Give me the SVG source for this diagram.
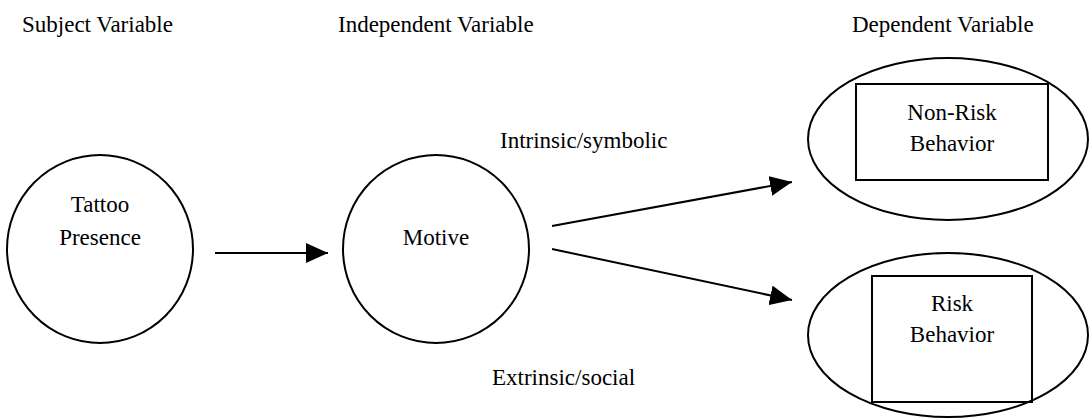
<svg xmlns="http://www.w3.org/2000/svg" width="1090" height="418" viewBox="0 0 1090 418">
<defs>
<marker id="arr" viewBox="0 0 22 20" refX="22" refY="10" markerWidth="22" markerHeight="20" markerUnits="userSpaceOnUse" orient="auto">
<path d="M0,0 L22,10 L0,20 Z" fill="#000"/>
</marker>
<style>
.c{text-anchor:middle}
.s{fill:none;stroke:#000;stroke-width:2}
.e{fill:none;stroke:#000;stroke-width:2;marker-end:url(#arr)}
</style>
</defs>
<rect width="1090" height="418" fill="#fff"/>
<g font-family="Liberation Serif, Times New Roman, DejaVu Serif, serif" font-size="23" fill="#000">
<g id="headers">
<text x="22" y="32">Subject Variable</text>
<text x="338" y="32">Independent Variable</text>
<text x="852" y="32">Dependent Variable</text>
</g>
<g id="tattoo">
<ellipse class="s" cx="100" cy="249" rx="93" ry="94"/>
<text class="c" x="100" y="212">Tattoo</text>
<text class="c" x="100" y="245">Presence</text>
</g>
<g id="motive">
<ellipse class="s" cx="436" cy="249" rx="93" ry="94"/>
<text class="c" x="436" y="245">Motive</text>
</g>
<g id="nonrisk">
<ellipse class="s" cx="948" cy="139" rx="140" ry="81"/>
<rect class="s" x="856" y="84" width="192" height="96"/>
<text class="c" x="952" y="120">Non-Risk</text>
<text class="c" x="952" y="151">Behavior</text>
</g>
<g id="risk">
<ellipse class="s" cx="948" cy="335" rx="140" ry="82"/>
<rect class="s" x="872" y="276" width="160" height="126"/>
<text class="c" x="952" y="311">Risk</text>
<text class="c" x="952" y="342">Behavior</text>
</g>
<g id="connectors">
<line class="e" x1="215" y1="253" x2="328" y2="253"/>
<line class="e" x1="552" y1="226" x2="792" y2="182"/>
<line class="e" x1="552" y1="249" x2="792" y2="300"/>
<text x="500" y="148">Intrinsic/symbolic</text>
<text x="492" y="385">Extrinsic/social</text>
</g>
</g>
</svg>
